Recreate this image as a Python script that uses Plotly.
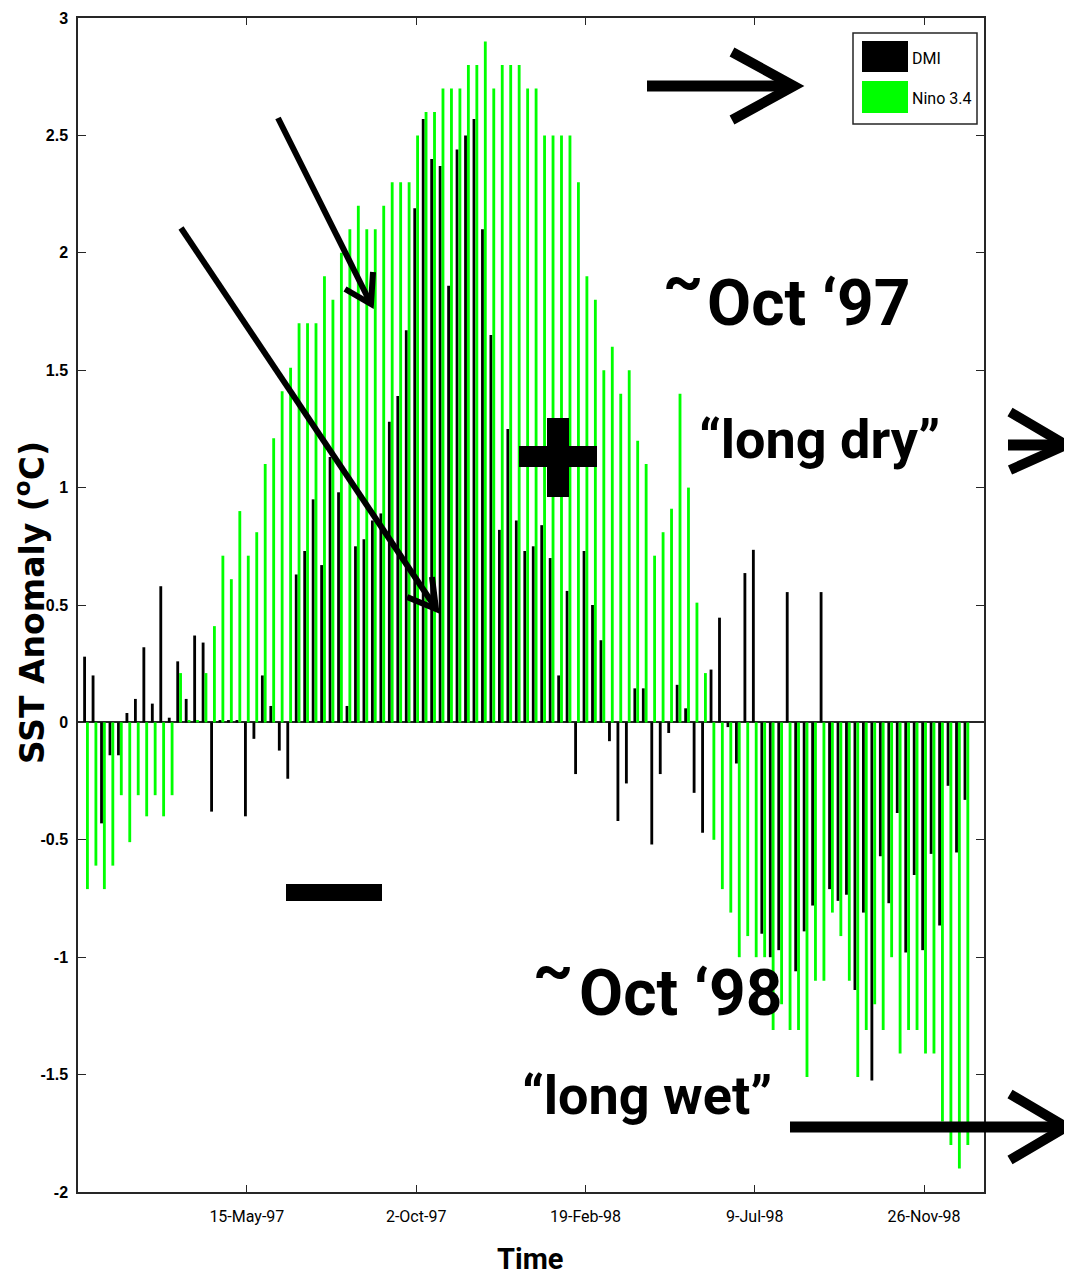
import plotly.graph_objects as go
import pandas as pd

# weekly dates (Thursdays), 2-Jan-1997 .. 31-Dec-1998
weeks = pd.date_range("1997-01-02", periods=105, freq="7D")

dmi = [0.28, 0.20, -0.43, -0.14, -0.14, 0.04, 0.10, 0.32, 0.08, 0.58,
       0.02, 0.26, 0.10, 0.37, 0.34, -0.38, 0.01, 0.01, 0.01, -0.40,
       -0.07, 0.20, 0.07, -0.12, -0.24, 0.63, 0.73, 0.95, 0.67, 1.13,
       0.98, 0.07, 0.75, 0.78, 0.86, 0.89, 1.28, 1.39, 1.67, 2.19,
       2.57, 2.40, 2.37, 1.86, 2.44, 2.50, 2.57, 2.10, 1.65, 0.82,
       1.25, 0.86, 0.73, 0.75, 0.84, 0.70, 0.20, 0.56, -0.22, 0.73,
       0.50, 0.35, -0.08, -0.42, -0.26, 0.145, 0.145, -0.52, -0.22, -0.045,
       0.16, 0.06, -0.30, -0.47, 0.225, 0.446, -0.02, -0.175, 0.636, 0.735,
       -0.90, -1.00, -0.97, 0.555, -1.06, -0.89, -0.78, 0.555, -0.71, -0.76,
       -0.734, -1.14, -0.81, -1.525, -0.57, -0.77, -0.386, -0.98, -0.65, -0.97,
       -0.56, -0.865, -0.27, -0.554, -0.33]

nino = [-0.71, -0.61, -0.71, -0.61, -0.31, -0.51, -0.31, -0.40, -0.31, -0.40,
        -0.31, 0.21, 0.01, 0.01, 0.21, 0.41, 0.71, 0.61, 0.90, 0.71,
        0.81, 1.10, 1.21, 1.41, 1.51, 1.70, 1.70, 1.70, 1.90, 1.80,
        2.00, 2.10, 2.20, 2.10, 2.10, 2.20, 2.30, 2.30, 2.30, 2.50,
        2.60, 2.60, 2.70, 2.70, 2.70, 2.80, 2.80, 2.90, 2.70, 2.80,
        2.80, 2.80, 2.70, 2.70, 2.50, 2.50, 2.50, 2.50, 2.30, 1.90,
        1.80, 1.50, 1.60, 1.40, 1.50, 1.20, 1.10, 0.71, 0.81, 0.91,
        1.40, 1.00, 0.51, 0.21, -0.50, -0.71, -0.81, -1.00, -0.91, -1.00,
        -1.00, -1.31, -1.20, -1.31, -1.31, -1.51, -1.10, -1.10, -0.81, -0.91,
        -1.10, -1.51, -1.31, -1.20, -1.31, -1.00, -1.41, -1.31, -1.31, -1.41,
        -1.41, -1.70, -1.80, -1.90, -1.80]

tick_dates = ["1997-05-15", "1997-10-02", "1998-02-19", "1998-07-09", "1998-11-26"]
y_ticks = [-2, -1.5, -1, -0.5, 0, 0.5, 1, 1.5, 2, 2.5, 3]
y_ticktext = ["-2", "-1.5", "-1", "-0.5", "0", "0.5", "1", "1.5", "2", "2.5", "3"]

NARROW = "Roboto, Liberation Sans, sans-serif"
AX = "#262626"

fig = go.Figure()
fig.add_trace(go.Bar(x=weeks, y=dmi, name="DMI", marker_color="black",
                     marker_line_width=0))
fig.add_trace(go.Bar(x=weeks, y=nino, name="Nino 3.4", marker_color="#00ff00",
                     marker_line_width=0))

W, H = 1072, 1283
OFF = 8  # page body margin of the browser
L, R, T, B = 78, 984, 18, 1192   # plot area in screen pixels


def px(x):
    return (x - L) / (R - L)


def py(y):
    return (B - y) / (B - T)


shapes = []


def line_path(pts, width):
    d = "M " + " L ".join(f"{px(x):.5f},{py(y):.5f}" for x, y in pts)
    shapes.append(dict(type="path", xref="paper", yref="paper", path=d,
                       line=dict(color="black", width=width),
                       fillcolor="rgba(0,0,0,0)", layer="above"))


def rect(x0, y0, x1, y1, fill, lw=0, lc="black"):
    shapes.append(dict(type="rect", xref="paper", yref="paper",
                       x0=px(x0), x1=px(x1), y0=py(y1), y1=py(y0),
                       fillcolor=fill, line=dict(color=lc, width=lw),
                       layer="above"))


# arrows (annotation overlay)
line_path([(647, 86), (790, 86)], 11)
line_path([(732, 52), (794, 86), (732, 120)], 10)
line_path([(278, 118), (370, 302)], 6)
line_path([(345, 289), (371, 304), (373, 272)], 6)
line_path([(181, 228), (435, 607)], 6)
line_path([(407, 597), (436, 609), (432, 577)], 6)
line_path([(1008, 445), (1072, 445)], 11)
line_path([(1010, 412), (1066, 445), (1010, 470)], 10)
line_path([(790, 1127), (1068, 1127)], 11)
line_path([(1010, 1094), (1066, 1127), (1010, 1160)], 10)

# plus and minus signs
rect(519, 446, 597, 467, "black")
rect(547, 418, 569, 497, "black")
rect(286, 884, 382, 901, "black")

# legend box
rect(853, 33, 977, 124, "white", 1.5, AX)
rect(862, 41, 908, 72, "black")
rect(862, 81, 908, 113, "#00ff00")

annotations = []


def text(s, x, y, size, xanchor="center", family=NARROW, weight="bold",
         angle=0):
    annotations.append(dict(text=s, x=px(x), y=py(y), xref="paper", yref="paper",
                            xanchor=xanchor, yanchor="middle", showarrow=False,
                            textangle=angle,
                            font=dict(family=family, size=size, color="black",
                                      weight=weight)))


text("DMI", 910, 59, 16, "left", weight="normal")
text("Nino 3.4", 910, 98, 16, "left", weight="normal")
text("~", 683, 279, 62)
text("Oct \u201897", 808, 303, 64)
text("\u201clong dry\u201d", 819, 440, 54)
text("~", 553, 968, 62)
text("Oct \u201898", 680, 993, 64)
text("\u201clong wet\u201d", 647, 1095, 54)
# axis titles
text("SST Anomaly (<sup>o</sup>C)", 30, 603, 33,
     family="DejaVu Sans, sans-serif", angle=-90)
text("Time", 530, 1259, 29)

fig.update_layout(
    width=W, height=H,
    margin=dict(l=L - OFF, r=W - R + OFF, t=T - OFF, b=H - B + OFF, pad=0),
    paper_bgcolor="white", plot_bgcolor="white",
    barmode="group", bargap=0.33, bargroupgap=0,
    showlegend=False,
    shapes=shapes, annotations=annotations,
    font=dict(family="Liberation Sans, Arial, sans-serif", color="black"),
)

fig.update_xaxes(
    type="date", automargin=False,
    range=["1996-12-26 09:00", "1999-01-14 13:00"],
    tickvals=tick_dates, tickformat="%-d-%b-%y",
    tickfont=dict(family=NARROW, size=16, color="black"),
    ticks="inside", ticklen=7, tickcolor=AX, tickwidth=1,
    showline=True, linecolor=AX, linewidth=1.5, mirror="ticks",
    showgrid=False, zeroline=False, ticklabelstandoff=9,
)

fig.update_yaxes(
    automargin=False,
    range=[-2, 3], tickvals=y_ticks, ticktext=y_ticktext,
    tickfont=dict(family="Liberation Sans, Arial, sans-serif", size=16,
                  color="black", weight="bold"),
    ticks="inside", ticklen=8, tickcolor=AX, tickwidth=1,
    showline=True, linecolor=AX, linewidth=1.5, mirror="ticks",
    showgrid=False, zeroline=True, zerolinecolor=AX, zerolinewidth=1.5,
    ticklabelstandoff=5,
)

fig.write_html("out.html")
